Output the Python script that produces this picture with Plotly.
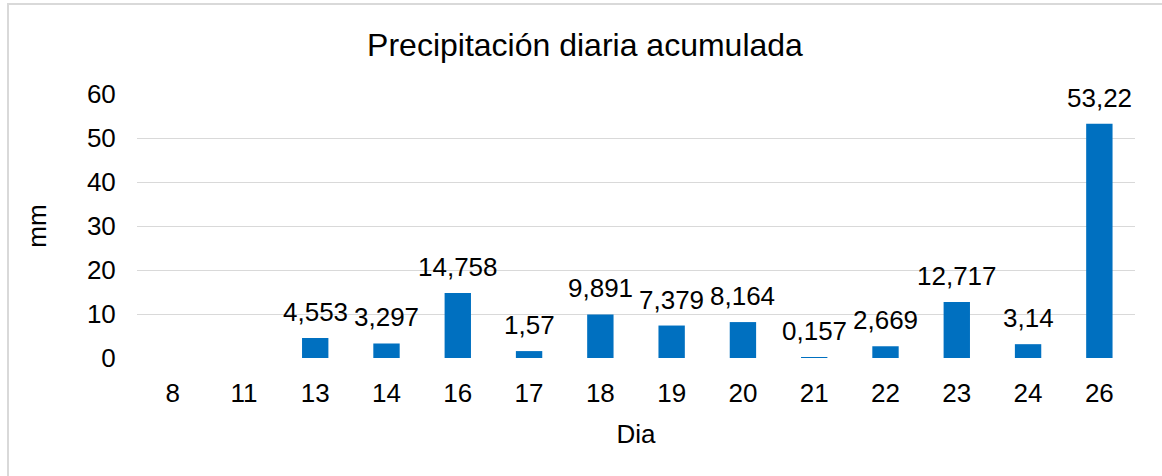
import plotly.graph_objects as go

# Daily accumulated precipitation (mm) by day of month
dias = ["8", "11", "13", "14", "16", "17", "18", "19", "20", "21", "22", "23", "24", "26"]
precipitacion = [None, None, 4.553, 3.297, 14.758, 1.57, 9.891, 7.379, 8.164, 0.157, 2.669, 12.717, 3.14, 53.22]
y_ticks = [0, 10, 20, 30, 40, 50, 60]

# Labels use a decimal comma
etiquetas = ["" if v is None else str(v).replace(".", ",") for v in precipitacion]

FONT = "Liberation Sans, Arial, sans-serif"
W, H = 1162, 476
L, R, T, B = 137, 27, 94, 118

fig = go.Figure(
    go.Bar(
        x=dias,
        y=precipitacion,
        marker=dict(color="#0070C0", line=dict(width=0)),
        width=0.37,
        cliponaxis=False,
    )
)

# Value labels above each bar (x given as category index)
for i, (v, t) in enumerate(zip(precipitacion, etiquetas)):
    if v is None:
        continue
    fig.add_annotation(
        x=i, y=v, text=t, showarrow=False,
        xanchor="center", yanchor="bottom", yshift=9,
        font=dict(family=FONT, size=26, color="#000000"),
    )

# Outer chart border
pw, ph = W - L - R, H - T - B
fig.add_shape(
    type="rect", xref="paper", yref="paper",
    x0=(8 - L) / pw, x1=(1175 - L) / pw,
    y0=(H - B - 490) / ph, y1=(H - B - 4) / ph,
    line=dict(color="#d9d9d9", width=2), fillcolor="rgba(0,0,0,0)", layer="below",
)

fig.update_layout(
    width=W, height=H,
    margin=dict(l=L, r=R, t=T, b=B),
    paper_bgcolor="white", plot_bgcolor="white",
    showlegend=False,
    font=dict(family=FONT, size=26, color="#000000"),
    title=dict(
        text="Precipitación diaria acumulada",
        x=585 / W, xanchor="center",
        y=1 - 45 / H, yanchor="middle",
        font=dict(family=FONT, size=32, color="#000000"),
    ),
    xaxis=dict(
        type="category",
        categoryorder="array", categoryarray=dias,
        range=[-0.5, len(dias) - 0.5],
        showgrid=False, zeroline=False, showline=False,
        ticks="outside", ticklen=12, tickcolor="rgba(0,0,0,0)",
        tickfont=dict(family=FONT, size=26, color="#000000"),
        title=dict(text="Dia", font=dict(family=FONT, size=26, color="#000000"), standoff=17),
    ),
    yaxis=dict(
        range=[0, 60],
        tickvals=y_ticks,
        showgrid=True, gridcolor="#d9d9d9", gridwidth=1.3,
        zeroline=False, showline=False,
        ticks="outside", ticklen=15, tickcolor="rgba(0,0,0,0)",
        tickfont=dict(family=FONT, size=26, color="#000000"),
        title=dict(text="mm", font=dict(family=FONT, size=26, color="#000000"), standoff=32),
    ),
)

fig.write_html("out.html")
